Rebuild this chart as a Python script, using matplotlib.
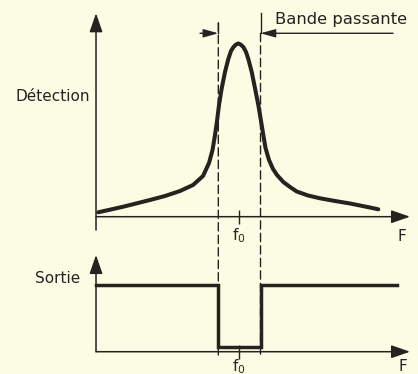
import matplotlib
matplotlib.use("Agg")
import matplotlib.pyplot as plt
from matplotlib.patches import ConnectionPatch

plt.rcParams['font.family'] = ['DejaVu Sans']
plt.rcParams['lines.scale_dashes'] = False

# courbe de détection (unités arbitraires)
freq = [0.23, 2.73, 5.4, 6.9, 8.4, 9.7, 10.7, 11.3, 11.65, 11.9, 12.1, 12.3,
        12.57, 12.9, 13.23, 13.5, 13.75, 14.0, 14.23, 14.45, 14.73, 15.0,
        15.23, 15.57, 15.9, 16.23, 16.5, 16.73, 16.95, 17.3, 17.7, 18.1,
        18.73, 19.4, 20.07, 21.2, 22.4, 23.9, 25.4, 26.9, 28.23]
detection = [0.44, 1.0, 1.67, 2.07, 2.57, 3.17, 4.07, 5.37, 6.67, 8.17, 9.57,
             11.17, 12.84, 14.47, 15.77, 16.57, 16.97, 17.22, 17.32, 17.22,
             16.97, 16.47, 15.77, 14.47, 12.84, 11.17, 9.57, 8.17, 6.87, 5.67,
             4.77, 4.17, 3.47, 2.97, 2.52, 2.12, 1.84, 1.57, 1.32, 1.02, 0.74]

f0 = 14.33
f_lo, f_hi = 12.23, 16.45          # bande passante
sortie_haut, sortie_bas = 6.67, 0.5
f_fin = 30.07

sortie_f = [0, f_lo, f_lo, f_hi, f_hi, f_fin]
sortie = [sortie_haut, sortie_haut, sortie_bas, sortie_bas, sortie_haut, sortie_haut]

ink = '#24231f'
bg = '#fcfbe3'

fig = plt.figure(figsize=(4.18, 3.74), dpi=100)
fig.patch.set_facecolor(bg)

ax1 = fig.add_axes([0.2297, 0.4206, 0.7512, 0.5439])
ax2 = fig.add_axes([0.2297, 0.0596, 0.7512, 0.2586])
ax1.set_xlim(0, 31.4)
ax1.set_ylim(0, 20.34)
ax2.set_xlim(0, 31.4)
ax2.set_ylim(0, 9.67)

for ax, pad in ((ax1, 2.5), (ax2, -1.0)):
    ax.set_facecolor('none')
    for s in ax.spines.values():
        s.set_visible(False)
    ax.set_yticks([])
    ax.set_xticks([f0])
    ax.set_xticklabels([r'f$_\mathregular{0}$'])
    ax.tick_params(axis='x', direction='inout', length=9.4, width=1.0,
                   colors=ink, labelsize=11, pad=pad)

arrow_ax = dict(arrowstyle='-|>,head_length=1.15,head_width=0.4',
                mutation_scale=10, lw=1.1, color=ink, shrinkA=0, shrinkB=0)

# axes avec flèches
ax1.annotate('', xy=(1, 0), xytext=(0, 0), xycoords='axes fraction',
             arrowprops=arrow_ax, annotation_clip=False)
ax1.annotate('', xy=(0, 1), xycoords='axes fraction', xytext=(0, -1.33),
             textcoords='data', arrowprops=arrow_ax, annotation_clip=False)
ax2.annotate('', xy=(1, 0), xytext=(0, 0), xycoords='axes fraction',
             arrowprops=arrow_ax, annotation_clip=False)
ax2.annotate('', xy=(0, 1), xytext=(0, 0), xycoords='axes fraction',
             arrowprops=arrow_ax, annotation_clip=False)

ax1.plot(freq, detection, color=ink, lw=2.9, solid_capstyle='round',
         solid_joinstyle='round', zorder=5, clip_on=False)
ax2.plot(sortie_f, sortie, color=ink, lw=2.5, solid_joinstyle='miter',
         zorder=5, clip_on=False)

# lignes pointillées de la bande passante
dash = (0, (6.0, 3.0))
for x, y_top in ((f_lo, 19.4), (f_hi, 18.34)):
    con = ConnectionPatch(xyA=(x, y_top), coordsA=ax1.transData,
                          xyB=(x, -0.33), coordsB=ax2.transData,
                          color=ink, lw=1.0, linestyle=dash)
    fig.add_artist(con)
ax1.plot([f_hi, f_hi], [18.34, 20.34], color=ink, lw=1.0, clip_on=False)
ax1.plot([f_lo, f_lo], [18.34, 19.4], color=ink, lw=1.0, clip_on=False)

arrow_bp = dict(arrowstyle='-|>,head_length=0.9,head_width=0.25',
                mutation_scale=10, lw=1.0, color=ink, shrinkA=0, shrinkB=0)
ax1.annotate('', xy=(f_lo, 18.34), xytext=(10.4, 18.34),
             arrowprops=arrow_bp, annotation_clip=False)
ax1.annotate('', xy=(f_hi, 18.34), xytext=(29.7, 18.34),
             arrowprops=arrow_bp, annotation_clip=False)
ax1.text(17.9, 19.67, 'Bande passante', fontsize=11.8, color=ink,
         ha='left', va='center')

ax1.text(-0.6, 11.97, 'Détection', fontsize=11, color=ink,
         ha='right', va='center')
ax2.text(-1.6, 7.27, 'Sortie', fontsize=11, color=ink,
         ha='right', va='center')
ax1.text(30.6, -2.0, 'F', fontsize=11, color=ink, ha='center', va='center')
ax2.text(30.7, -1.45, 'F', fontsize=11, color=ink, ha='center', va='center')

fig.savefig('out.png', dpi=100, facecolor=bg)
